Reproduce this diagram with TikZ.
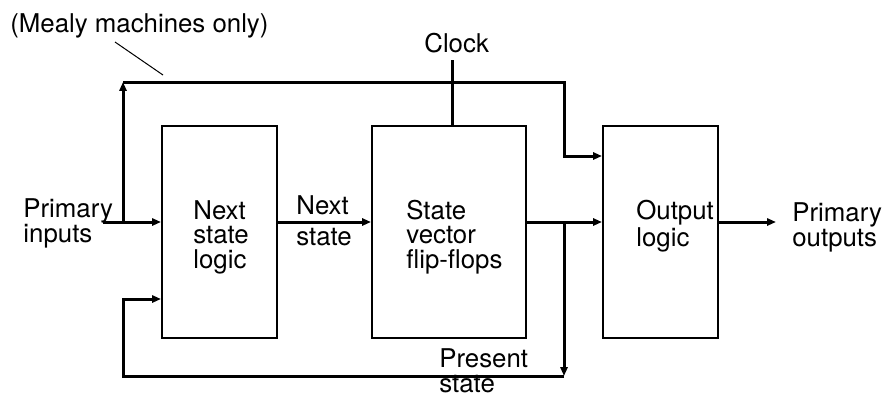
\documentclass[tikz,border=0pt]{standalone}
\usepackage{fontspec}
\setmainfont{TeX Gyre Heros}
\usetikzlibrary{arrows.meta}

\begin{document}
\begin{tikzpicture}[x=0.02cm, y=-0.02cm,
    every node/.style={font=\fontsize{14.7}{13.8}\selectfont, inner sep=0pt},
    block/.style={draw=black, line width=0.04cm, minimum width=2.3cm,
        minimum height=4.24cm},
    lbl/.style={anchor=base west, align=left},
    wire/.style={line width=0.06cm},
    sig/.style={wire, -{Triangle[length=5pt, width=4pt]}},
]
\useasboundingbox (0,0) rectangle (885,397);

% === Blocks ===
\node[block] (nsl) at (219.5,232) {};
\node[block, minimum width=3.08cm] (svf) at (449,232) {};
\node[block] (outl) at (660.5,232) {};

% === Block texts (placed by last baseline) ===
\node[lbl] (nsltxt) at (193,268) {Next\\state\\logic};
\node[lbl] (svftxt) at (406,268) {State\\vector\\flip-flops};
\node[lbl] (outltxt) at (636,246) {Output\\logic};

% === Signal labels ===
\node[lbl] (pinlbl) at (23,242) {Primary\\inputs};
\node[lbl] (nslbl) at (296,245) {Next\\[3.5pt]state};
\node[lbl] (poutlbl) at (792,246) {Primary\\outputs};
\node[lbl] (pslbl) at (439,392) {Present\\state};
\node[lbl] (clklbl) at (424,52) {Clock};
\node[lbl] (mealylbl) at (10,32) {(Mealy machines only)};

% === Wire points ===
\coordinate (pin) at (103,222);
\coordinate (tap) at (123,222);
\coordinate (mtop) at (123,82);
\coordinate (mcorner) at (564,82);
\coordinate (mlevel) at (0,156);
\coordinate (psj) at (564,222);
\coordinate (pscorner) at (564,376);
\coordinate (fbcorner) at (123,376);
\coordinate (fblevel) at (0,299);
\coordinate (pout) at (776,222);
\coordinate (clktop) at (452,60);
\coordinate (leadA) at (115,42);
\coordinate (leadB) at (163,75);

% Primary inputs into next state logic
\draw[sig] (pin) -- (pin -| nsl.west);

% Mealy path round to output logic
\draw[sig] (tap) -- (mtop);
\draw[sig] (mtop) -- (mcorner) |- (outl.west |- mlevel);
\draw[line width=0.02cm] (leadA) -- (leadB);

% Next state into flip-flops
\draw[sig] (nsl.east |- pin) -- (svf.west |- pin);

% Present state to output logic and back
\draw[sig] (svf.east |- pin) -- (outl.west |- pin);
\draw[sig] (psj) -- (pscorner);
\draw[sig] (pscorner) -- (fbcorner) |- (nsl.west |- fblevel);

% Primary outputs
\draw[sig] (outl.east |- pin) -- (pout);

% Clock
\draw[wire] (clktop) -- (clktop |- svf.north);

\end{tikzpicture}
\end{document}
